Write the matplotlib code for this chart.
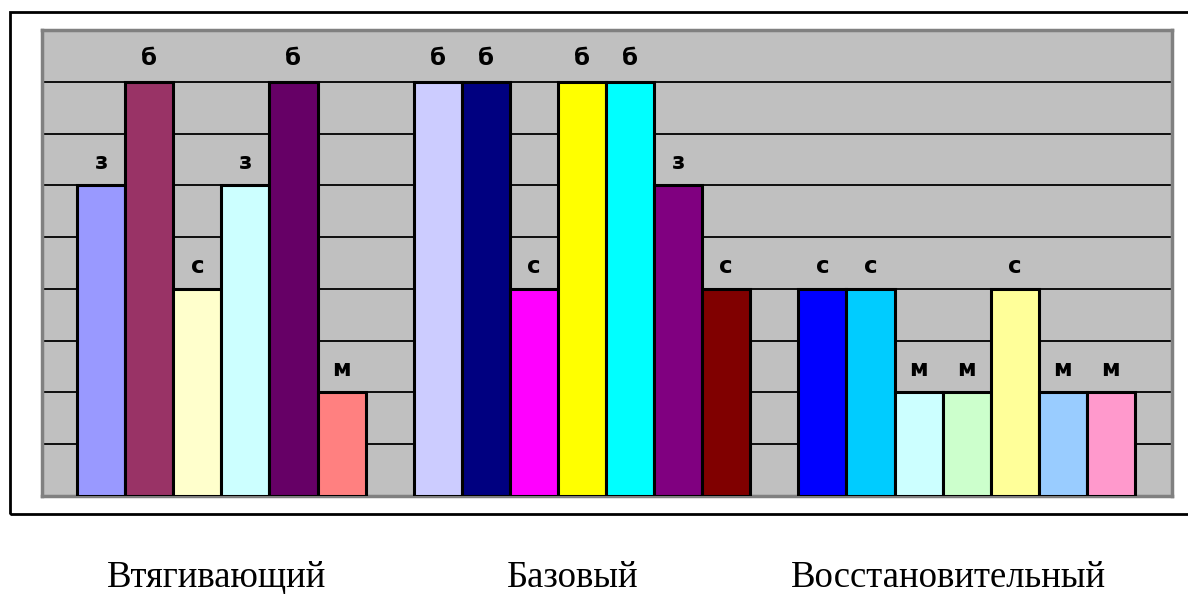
import matplotlib
matplotlib.use("Agg")
import matplotlib.pyplot as plt
from matplotlib.patches import Rectangle

# ---- data ----
groups = ["Втягивающий", "Базовый", "Восстановительный"]

g1_values = [6, 8, 4, 6, 8, 2]
g1_labels = ["з", "б", "с", "з", "б", "м"]
g1_colors = ["#9999FF", "#993366", "#FFFFCC", "#CCFFFF", "#660066", "#FF8080"]

g2_values = [8, 8, 4, 8, 8, 6, 4]
g2_labels = ["б", "б", "с", "б", "б", "з", "с"]
g2_colors = ["#CCCCFF", "#000080", "#FF00FF", "#FFFF00", "#00FFFF", "#800080", "#800000"]

g3_values = [4, 4, 2, 2, 4, 2, 2]
g3_labels = ["с", "с", "м", "м", "с", "м", "м"]
g3_colors = ["#0000FF", "#00CCFF", "#CCFFFF", "#CCFFCC", "#FFFF99", "#99CCFF", "#FF99CC"]

group_starts = [0, 7, 15]          # slot index where each group begins
group_label_x = [217, 573, 948]    # pixel centres of category names

W, H = 1188, 594
fig = plt.figure(figsize=(W / 100, H / 100), dpi=100)
fig.patch.set_facecolor("white")

# outer frame
fig.patches.append(Rectangle((10 / W, (H - 514) / H), W / W, (514 - 12) / H,
                             transform=fig.transFigure, fill=False,
                             edgecolor="black", linewidth=2, zorder=0))

ax = fig.add_axes([42 / W, (H - 496) / H, 1130 / W, 466 / H])
ax.set_facecolor("#C0C0C0")

all_vals = [g1_values, g2_values, g3_values]
all_labs = [g1_labels, g2_labels, g3_labels]
all_cols = [g1_colors, g2_colors, g3_colors]

for start, vals, labs, cols in zip(group_starts, all_vals, all_labs, all_cols):
    xs = [start + i for i in range(len(vals))]
    ax.bar(xs, vals, width=1.0, color=cols, edgecolor="black", linewidth=2.2, zorder=3)
    for x, v, lab in zip(xs, vals, labs):
        ax.text(x, v + 0.44, lab, ha="center", va="center", fontsize=16.5,
                fontweight="bold", family="DejaVu Sans", color="black", zorder=4)

ax.set_xlim(-1.23, 22.27)
ax.set_ylim(0, 9)
ax.set_yticks(range(0, 10))
ax.yaxis.grid(True, color="black", linewidth=1.3, zorder=1)
ax.set_axisbelow(True)
ax.tick_params(left=False, bottom=False, labelleft=False, labelbottom=False)
for side, sp in ax.spines.items():
    sp.set_color("#808080")
    sp.set_linewidth(2.5)

for name, px in zip(groups, group_label_x):
    fig.text(px / W, (H - 587) / H, name, ha="center", va="baseline",
             fontsize=26.5, family="Liberation Serif", color="black")

fig.savefig("out.png", dpi=100)
